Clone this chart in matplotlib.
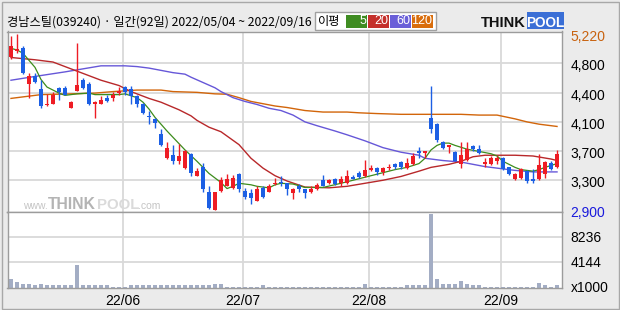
import matplotlib
matplotlib.use('Agg')
import matplotlib.pyplot as plt
import matplotlib.transforms as mtransforms
from matplotlib.patches import Rectangle
import numpy as np

# daily candles 2022/05/04 ~ 2022/09/16 (92 trading days)
opens = [4910, 4990, 5030, 4560, 4660, 4500, 4280, 4300, 4510, 4510,
         4250, 4470, 4610, 4560, 4300, 4300, 4370, 4380, 4440, 4520,
         4490, 4400, 4300, 4140, 4100, 3900, 3580, 3620, 3540, 3450,
         3640, 3350, 3460, 3130, 2900, 3150, 3220, 3190, 3370, 3150,
         3120, 3020, 3190, 3140, 3240, 3270, 3250, 3120, 3220, 3170,
         3140, 3180, 3290, 3250, 3310, 3250, 3250, 3330, 3380, 3340,
         3420, 3450, 3400, 3450, 3500, 3530, 3450, 3500, 3670, 3650,
         4110, 4030, 3800, 3730, 3660, 3500, 3560, 3740, 3700, 3500,
         3500, 3540, 3590, 3460, 3300, 3320, 3410, 3300, 3300, 3370,
         3520, 3460]
highs = [5190, 5220, 5060, 4700, 4700, 4610, 4430, 4460, 4520, 4540,
         4330, 5100, 4640, 4580, 4330, 4400, 4410, 4450, 4520, 4530,
         4540, 4410, 4310, 4210, 4110, 3970, 3790, 3750, 3770, 3690,
         3650, 3450, 3520, 3220, 3140, 3330, 3370, 3360, 3380, 3190,
         3170, 3210, 3220, 3240, 3320, 3340, 3260, 3190, 3240, 3180,
         3220, 3250, 3360, 3310, 3320, 3350, 3420, 3360, 3410, 3560,
         3490, 3470, 3460, 3500, 3520, 3540, 3580, 3650, 3730, 3680,
         4530, 4040, 3810, 3760, 3680, 3800, 3800, 3750, 3760, 3590,
         3610, 3610, 3600, 3470, 3380, 3450, 3430, 3440, 3640, 3540,
         3550, 3690]
lows = [4890, 4970, 4690, 4370, 4570, 4250, 4270, 4300, 4350, 4410,
        4240, 4470, 4500, 4280, 4110, 4300, 4320, 4340, 4410, 4410,
        4290, 4260, 4170, 4030, 3980, 3740, 3570, 3500, 3500, 3440,
        3350, 3340, 3140, 2910, 2900, 3140, 3210, 3180, 3130, 3040,
        2970, 3010, 3050, 3130, 3230, 3210, 3100, 3040, 3140, 3050,
        3120, 3160, 3210, 3240, 3230, 3210, 3240, 3300, 3320, 3330,
        3410, 3360, 3360, 3420, 3440, 3440, 3440, 3490, 3580, 3590,
        3920, 3800, 3700, 3650, 3540, 3450, 3550, 3670, 3630, 3460,
        3490, 3500, 3430, 3360, 3290, 3310, 3260, 3260, 3290, 3320,
        3430, 3450]
closes = [5060, 5020, 4700, 4660, 4580, 4270, 4300, 4420, 4450, 4420,
          4320, 4550, 4510, 4290, 4320, 4350, 4330, 4410, 4470, 4460,
          4400, 4290, 4180, 4120, 4040, 3750, 3710, 3540, 3610, 3670,
          3390, 3410, 3170, 2930, 3130, 3290, 3300, 3320, 3170, 3070,
          3050, 3180, 3070, 3220, 3260, 3250, 3170, 3180, 3180, 3120,
          3180, 3230, 3220, 3290, 3240, 3300, 3340, 3310, 3330, 3420,
          3450, 3400, 3450, 3470, 3470, 3470, 3520, 3610, 3650, 3670,
          3970, 3820, 3720, 3750, 3550, 3620, 3700, 3700, 3650, 3530,
          3580, 3580, 3440, 3370, 3370, 3440, 3280, 3280, 3490, 3530,
          3440, 3640]
# volume, x1000 shares
volume = [1360, 870, 540, 540, 330, 540, 380, 380, 380, 380,
          380, 3650, 380, 380, 380, 380, 380, 160, 160, 160,
          380, 380, 380, 380, 380, 380, 380, 380, 380, 380,
          380, 380, 380, 380, 540, 540, 160, 160, 160, 160,
          160, 160, 380, 160, 160, 160, 160, 160, 160, 160,
          160, 160, 160, 160, 160, 160, 160, 160, 160, 540,
          160, 160, 160, 160, 160, 160, 380, 380, 380, 380,
          12000, 1360, 540, 540, 540, 1080, 540, 380, 380, 160,
          160, 160, 160, 160, 160, 160, 160, 160, 750, 380,
          160, 380]

# moving averages: (day index, price)
ma5_x = [0, 1, 2, 4, 5, 6, 8, 9, 11, 13, 14, 18, 19, 21, 22, 23, 24, 26, 29, 31,
         33, 35, 36, 37, 38, 40, 41, 43, 44, 45, 47, 49, 52, 55, 58, 61, 64, 66, 68, 69,
         70, 71, 72, 73, 74, 76, 78, 80, 81, 82, 84, 85, 87, 88, 89, 91]
ma5_y = [5030, 5010, 4965, 4780, 4620, 4520, 4440, 4410, 4430, 4440, 4420, 4420, 4430, 4380, 4320, 4230, 4120, 3940, 3690, 3540,
         3380, 3260, 3180, 3210, 3250, 3230, 3210, 3190, 3230, 3250, 3240, 3195, 3195, 3250, 3310, 3370, 3430, 3460, 3510, 3580,
         3690, 3750, 3780, 3780, 3750, 3700, 3670, 3640, 3610, 3540, 3460, 3430, 3410, 3430, 3460, 3510]
ma20_x = [0, 4, 7, 9, 12, 15, 18, 20, 23, 25, 28, 30, 31, 33, 35, 38, 40, 42, 44, 46,
          49, 53, 56, 59, 62, 65, 68, 70, 73, 75, 77, 79, 84, 87, 90, 91]
ma20_y = [4910, 4880, 4850, 4790, 4700, 4610, 4540, 4460, 4370, 4320, 4220, 4140, 4080, 3990, 3930, 3760, 3580, 3450, 3350, 3280,
          3200, 3190, 3210, 3250, 3290, 3340, 3410, 3460, 3500, 3540, 3600, 3620, 3620, 3610, 3570, 3550]
ma60_x = [0, 4, 9, 12, 15, 19, 21, 23, 25, 27, 29, 30, 32, 34, 35, 37, 39, 41, 43, 45,
          47, 49, 51, 54, 56, 59, 62, 65, 68, 69, 72, 75, 77, 79, 82, 84, 87, 91]
ma60_y = [4610, 4660, 4720, 4760, 4800, 4800, 4790, 4770, 4740, 4710, 4690, 4650, 4580, 4510, 4460, 4380, 4330, 4290, 4240, 4210,
          4150, 4060, 4010, 3940, 3890, 3810, 3720, 3660, 3620, 3580, 3550, 3530, 3500, 3470, 3440, 3420, 3400, 3400]
ma120_x = [0, 2, 5, 10, 14, 17, 21, 25, 27, 31, 34, 36, 38, 40, 42, 44, 46, 49, 52, 56,
           58, 61, 65, 75, 78, 81, 84, 86, 88, 91]
ma120_y = [4370, 4390, 4420, 4430, 4440, 4460, 4480, 4480, 4460, 4450, 4430, 4425, 4380, 4330, 4300, 4270, 4250, 4210, 4190, 4190,
           4180, 4170, 4160, 4160, 4150, 4150, 4100, 4060, 4030, 4000]

month_idx = [19, 39, 60, 82]
month_labels = ['22/06', '22/07', '22/08', '22/09']
price_max, price_min = 5220, 2900
price_labels = ['5,220', '4,800', '4,400', '4,100', '3,700', '3,300', '2,900']
vol_ticks = [8236, 4144, 0]
vol_labels = ['8236', '4144', 'x1000']

RED = '#ee1c24'
BLUE = '#1c5fe4'
GRID = '#d9d9d9'
FRAME = '#9c9c9c'
NARROW = ['Liberation Sans Narrow', 'Liberation Sans', 'DejaVu Sans']
KR = ['Noto Sans CJK KR', 'DejaVu Sans']

W, H = 620, 310
fig = plt.figure(figsize=(W / 100, H / 100), dpi=100, facecolor='#ebebeb')

def fx(px):
    return px / W

def fy(py):
    return 1 - py / H

# panes
left, right, top, sep, bottom = 7.5, 562, 31.5, 212, 287.5
ax = fig.add_axes([fx(left), fy(sep), fx(right - left), (sep - top) / H])
axv = fig.add_axes([fx(left), fy(bottom), fx(right - left), (bottom - sep) / H])

n = len(closes)
step = (price_max - price_min) / 6.0
ax.set_ylim(price_min - 2.2 * step / 29.3, price_max + 2.5 * step / 29.3)
for a in (ax, axv):
    a.set_xlim(-0.58, n - 0.17)
    a.set_xticks([])
    a.set_yticks([])
    a.set_facecolor('white')
    for s in a.spines.values():
        s.set_color(FRAME)
        s.set_linewidth(1)
    for m in month_idx:
        a.axvline(m - 0.4, color=GRID, lw=1.3, zorder=0)

for k in range(1, 6):
    ax.axhline(price_max - k * step, color=GRID, lw=1.3, zorder=0)

# moving averages
ax.plot(ma120_x, ma120_y, color='#d2650a', lw=1.0, zorder=2)
ax.plot(ma60_x, ma60_y, color='#6657d8', lw=1.0, zorder=2)
ax.plot(ma20_x, ma20_y, color='#b8282a', lw=1.0, zorder=2)
ax.plot(ma5_x, ma5_y, color='#3c8c1c', lw=0.9, zorder=2)

# candles
o = np.array(opens); c = np.array(closes)
cols = [RED if cc >= oo else BLUE for oo, cc in zip(o, c)]
x = np.arange(n)
ax.vlines(x, lows, highs, colors=cols, lw=1.0, zorder=3)
ax.bar(x, np.maximum(np.abs(c - o), 14), bottom=np.minimum(o, c), width=0.72,
       color=cols, linewidth=0, zorder=4)

# volume
vmax = 12354
axv.set_ylim(0, vmax)
axv.axhline(4144, color=GRID, lw=1.3, zorder=0)
axv.axhline(8236, color=GRID, lw=1.3, zorder=0)
axv.bar(x, volume, width=0.82, color='#a3adc4', linewidth=0, zorder=2)

# right-hand labels
tr = mtransforms.offset_copy(ax.get_yaxis_transform(), fig=fig, x=8.5, y=-3, units='dots')
for k, lab in enumerate(price_labels):
    col = '#c8620f' if k == 0 else ('#1a1adc' if k == 6 else 'black')
    ax.text(1.0, price_max - k * step, lab, transform=tr, ha='left', va='center',
            fontsize=10, family=NARROW, color=col, clip_on=False)
trv = mtransforms.offset_copy(axv.get_yaxis_transform(), fig=fig, x=8.5, y=-1, units='dots')
for v, lab in zip(vol_ticks, vol_labels):
    axv.text(1.0, v, lab, transform=trv, ha='left', va='center',
             fontsize=10, family=NARROW, color='black', clip_on=False)

# month labels
trx = mtransforms.offset_copy(axv.get_xaxis_transform(), fig=fig, x=0, y=-13.5, units='dots')
for m, lab in zip(month_idx, month_labels):
    axv.text(m - 0.4, 0, lab, transform=trx, ha='center', va='center',
             fontsize=10, family=NARROW, clip_on=False)

# title
fig.text(fx(7), fy(22), '경남스틸(039240) · 일간(92일) 2022/05/04 ~ 2022/09/16',
         fontsize=8.8, family=KR, va='center', ha='left')

# MA legend
fig.add_artist(Rectangle((fx(315), fy(29.5)), fx(121), 17.5 / H, transform=fig.transFigure,
                         facecolor='white', edgecolor='#a0a0a0', lw=1))
fig.text(fx(318), fy(21), '이평', fontsize=8.8, family=KR, va='center', ha='left')
for x0, lab, col in [(346, '5', '#3f8c22'), (368, '20', '#c4302b'),
                     (390, '60', '#6a5fd8'), (412, '120', '#d96d0c')]:
    fig.add_artist(Rectangle((fx(x0), fy(27.5)), fx(21), 12.5 / H, transform=fig.transFigure,
                             facecolor=col, edgecolor='none'))
    fig.text(fx(x0 + 20), fy(21.5), lab, fontsize=9, family=NARROW, color='white',
             va='center', ha='right')

# logo
fig.text(fx(481), fy(27), 'THINK', fontsize=10.5, family=['Liberation Sans', 'DejaVu Sans'],
         fontweight='bold', color='#111111', va='baseline', ha='left')
fig.add_artist(Rectangle((fx(527), fy(28.5)), fx(37), 16 / H, transform=fig.transFigure,
                         facecolor='#3a6fd6', edgecolor='none'))
fig.text(fx(545.5), fy(27), 'POOL', fontsize=9.8, family=['Liberation Sans', 'DejaVu Sans'],
         fontweight='bold', color='white', va='baseline', ha='center')

# watermark
fig.text(fx(23), fy(209), 'www.', fontsize=7.5, family=['Liberation Sans', 'DejaVu Sans'],
         color='#c4c4c4', va='baseline', ha='left')
fig.text(fx(48), fy(209), 'THINK', fontsize=11.3, family=['Liberation Sans', 'DejaVu Sans'],
         fontweight='bold', color='#b4b4b4', va='baseline', ha='left')
fig.text(fx(97), fy(209), 'POOL', fontsize=10.8, family=['Liberation Sans', 'DejaVu Sans'],
         fontweight='bold', color='#dadada', va='baseline', ha='left')
fig.text(fx(138), fy(209), '.com', fontsize=7.5, family=['Liberation Sans', 'DejaVu Sans'],
         color='#c4c4c4', va='baseline', ha='left')

# outer frame
fig.add_artist(Rectangle((fx(1.5), fy(308.5)), fx(617), 307 / H, transform=fig.transFigure,
                         facecolor='none', edgecolor='#a8a8a8', lw=1))

fig.savefig('out.png', dpi=100, facecolor=fig.get_facecolor())
